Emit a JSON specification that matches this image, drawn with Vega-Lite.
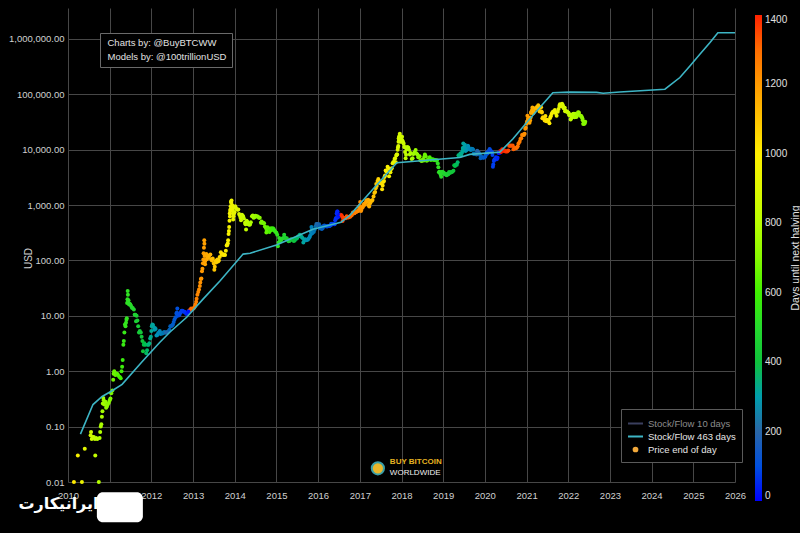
{
  "$schema": "https://vega.github.io/schema/vega-lite/v6.json",
  "autosize": {"type": "none"},
  "padding": {"left": 68, "top": 8, "right": 65, "bottom": 51},
  "width": 667,
  "height": 474,
  "background": "#000000",
  "datasets": {
    "price": [
      {"t":"2010-02-22","p":0.01,"h":1010},{"t":"2010-03-28","p":0.03,"h":976},{"t":"2010-05-03","p":0.01,"h":940},{"t":"2010-05-28","p":0.04,"h":915},
      {"t":"2010-07-18","p":0.07,"h":864},{"t":"2010-07-22","p":0.08,"h":860},{"t":"2010-07-28","p":0.06,"h":854},{"t":"2010-08-05","p":0.065,"h":846},
      {"t":"2010-08-15","p":0.065,"h":836},{"t":"2010-08-25","p":0.06,"h":826},{"t":"2010-08-28","p":0.03,"h":823},{"t":"2010-09-05","p":0.062,"h":815},
      {"t":"2010-09-15","p":0.06,"h":805},{"t":"2010-09-28","p":0.01,"h":792},{"t":"2010-10-05","p":0.062,"h":785},{"t":"2010-10-15","p":0.1,"h":775},
      {"t":"2010-10-25","p":0.15,"h":765},{"t":"2010-11-06","p":0.33,"h":753},{"t":"2010-11-15","p":0.25,"h":744},{"t":"2010-12-01","p":0.22,"h":728},
      {"t":"2010-12-15","p":0.25,"h":714},{"t":"2011-01-01","p":0.3,"h":697},{"t":"2011-01-15","p":0.4,"h":683},{"t":"2011-02-01","p":0.7,"h":666},
      {"t":"2011-02-10","p":1.0,"h":657},{"t":"2011-02-20","p":0.85,"h":647},{"t":"2011-03-01","p":0.88,"h":638},{"t":"2011-03-15","p":0.85,"h":624},
      {"t":"2011-04-01","p":0.78,"h":607},{"t":"2011-04-15","p":1.0,"h":593},{"t":"2011-04-25","p":1.6,"h":583},{"t":"2011-05-01","p":3.0,"h":577},
      {"t":"2011-05-10","p":5.0,"h":568},{"t":"2011-05-20","p":6.5,"h":558},{"t":"2011-05-28","p":8.5,"h":550},{"t":"2011-06-03","p":17,"h":544},
      {"t":"2011-06-08","p":28,"h":539},{"t":"2011-06-12","p":18,"h":535},{"t":"2011-06-20","p":16,"h":527},{"t":"2011-07-01","p":16,"h":516},
      {"t":"2011-07-15","p":14,"h":502},{"t":"2011-08-01","p":13,"h":485},{"t":"2011-08-15","p":10.5,"h":471},{"t":"2011-08-20","p":8,"h":466},
      {"t":"2011-09-01","p":8.2,"h":454},{"t":"2011-09-15","p":5,"h":440},{"t":"2011-10-01","p":5,"h":424},{"t":"2011-10-15","p":3.5,"h":410},
      {"t":"2011-10-20","p":2.3,"h":405},{"t":"2011-11-01","p":3.2,"h":393},{"t":"2011-11-18","p":2.1,"h":376},{"t":"2011-12-01","p":3,"h":363},
      {"t":"2011-12-15","p":3.2,"h":349},{"t":"2012-01-01","p":5.3,"h":332},{"t":"2012-01-10","p":7,"h":323},{"t":"2012-01-20","p":6.3,"h":313},
      {"t":"2012-02-01","p":6,"h":301},{"t":"2012-02-15","p":4.4,"h":287},{"t":"2012-03-01","p":4.9,"h":272},{"t":"2012-03-15","p":5.3,"h":258},
      {"t":"2012-04-01","p":4.9,"h":241},{"t":"2012-04-15","p":4.9,"h":227},{"t":"2012-05-01","p":5,"h":211},{"t":"2012-05-15","p":5,"h":197},
      {"t":"2012-06-01","p":5.3,"h":180},{"t":"2012-06-15","p":6.5,"h":166},{"t":"2012-07-01","p":6.7,"h":150},{"t":"2012-07-15","p":7.7,"h":136},
      {"t":"2012-08-01","p":9.4,"h":119},{"t":"2012-08-16","p":13.5,"h":104},{"t":"2012-08-19","p":10,"h":101},{"t":"2012-09-01","p":10.2,"h":88},
      {"t":"2012-09-15","p":11.6,"h":74},{"t":"2012-10-01","p":12.4,"h":58},{"t":"2012-10-15","p":11.8,"h":44},{"t":"2012-11-01","p":10.9,"h":27},
      {"t":"2012-11-15","p":11.2,"h":13},{"t":"2012-11-27","p":12.3,"h":1},
      {"t":"2012-12-01","p":12.6,"h":1316},{"t":"2012-12-15","p":13.5,"h":1302},{"t":"2013-01-01","p":13.4,"h":1285},{"t":"2013-01-15","p":14.5,"h":1271},
      {"t":"2013-02-01","p":20.4,"h":1254},{"t":"2013-02-15","p":27,"h":1240},{"t":"2013-03-01","p":34.5,"h":1226},{"t":"2013-03-10","p":46,"h":1217},
      {"t":"2013-03-20","p":64,"h":1207},{"t":"2013-03-28","p":89,"h":1199},{"t":"2013-04-03","p":135,"h":1193},{"t":"2013-04-06","p":170,"h":1190},
      {"t":"2013-04-09","p":230,"h":1187},{"t":"2013-04-12","p":120,"h":1184},{"t":"2013-04-16","p":85,"h":1180},{"t":"2013-04-22","p":125,"h":1174},
      {"t":"2013-05-01","p":105,"h":1165},{"t":"2013-05-15","p":114,"h":1151},{"t":"2013-06-01","p":128,"h":1134},{"t":"2013-06-15","p":100,"h":1120},
      {"t":"2013-07-01","p":88,"h":1104},{"t":"2013-07-06","p":68,"h":1099},{"t":"2013-07-15","p":98,"h":1090},{"t":"2013-08-01","p":104,"h":1073},
      {"t":"2013-08-15","p":100,"h":1059},{"t":"2013-09-01","p":140,"h":1042},{"t":"2013-09-15","p":130,"h":1028},{"t":"2013-10-01","p":128,"h":1012},
      {"t":"2013-10-15","p":150,"h":998},{"t":"2013-11-01","p":205,"h":981},{"t":"2013-11-08","p":300,"h":974},{"t":"2013-11-13","p":400,"h":969},
      {"t":"2013-11-16","p":520,"h":966},{"t":"2013-11-18","p":700,"h":964},{"t":"2013-11-22","p":780,"h":960},{"t":"2013-11-26","p":950,"h":956},
      {"t":"2013-11-29","p":1150,"h":953},{"t":"2013-12-04","p":1200,"h":948},{"t":"2013-12-10","p":990,"h":942},{"t":"2013-12-14","p":800,"h":938},
      {"t":"2013-12-18","p":550,"h":934},{"t":"2013-12-25","p":700,"h":927},{"t":"2014-01-05","p":950,"h":916},{"t":"2014-01-15","p":850,"h":906},
      {"t":"2014-02-01","p":830,"h":889},{"t":"2014-02-15","p":650,"h":875},{"t":"2014-02-25","p":530,"h":865},{"t":"2014-03-05","p":665,"h":857},
      {"t":"2014-03-15","p":630,"h":847},{"t":"2014-04-01","p":480,"h":830},{"t":"2014-04-10","p":360,"h":821},{"t":"2014-04-20","p":500,"h":811},
      {"t":"2014-05-01","p":450,"h":800},{"t":"2014-05-15","p":445,"h":786},{"t":"2014-06-01","p":630,"h":769},{"t":"2014-06-15","p":590,"h":755},
      {"t":"2014-07-01","p":640,"h":739},{"t":"2014-07-15","p":620,"h":725},{"t":"2014-08-01","p":590,"h":708},{"t":"2014-08-18","p":480,"h":691},
      {"t":"2014-09-01","p":480,"h":677},{"t":"2014-09-15","p":470,"h":663},{"t":"2014-10-01","p":385,"h":647},{"t":"2014-10-05","p":320,"h":643},
      {"t":"2014-10-15","p":395,"h":633},{"t":"2014-11-01","p":325,"h":616},{"t":"2014-11-15","p":380,"h":602},{"t":"2014-12-01","p":380,"h":586},
      {"t":"2014-12-15","p":345,"h":572},{"t":"2015-01-01","p":315,"h":555},{"t":"2015-01-14","p":180,"h":542},{"t":"2015-01-25","p":255,"h":531},
      {"t":"2015-02-08","p":225,"h":517},{"t":"2015-02-20","p":245,"h":505},{"t":"2015-03-10","p":290,"h":487},{"t":"2015-03-25","p":245,"h":472},
      {"t":"2015-04-10","p":235,"h":456},{"t":"2015-04-25","p":225,"h":441},{"t":"2015-05-10","p":240,"h":426},{"t":"2015-05-25","p":237,"h":411},
      {"t":"2015-06-10","p":228,"h":395},{"t":"2015-06-25","p":245,"h":380},{"t":"2015-07-10","p":270,"h":365},{"t":"2015-07-25","p":290,"h":350},
      {"t":"2015-08-10","p":265,"h":334},{"t":"2015-08-25","p":210,"h":319},{"t":"2015-09-10","p":240,"h":303},{"t":"2015-09-25","p":235,"h":288},
      {"t":"2015-10-10","p":245,"h":273},{"t":"2015-10-25","p":285,"h":258},{"t":"2015-11-04","p":400,"h":248},{"t":"2015-11-11","p":310,"h":241},
      {"t":"2015-11-25","p":330,"h":227},{"t":"2015-12-10","p":415,"h":212},{"t":"2015-12-25","p":455,"h":197},{"t":"2016-01-10","p":450,"h":181},
      {"t":"2016-01-15","p":380,"h":176},{"t":"2016-01-25","p":395,"h":166},{"t":"2016-02-10","p":380,"h":150},{"t":"2016-02-25","p":425,"h":135},
      {"t":"2016-03-10","p":415,"h":121},{"t":"2016-03-25","p":415,"h":106},{"t":"2016-04-10","p":420,"h":90},{"t":"2016-04-25","p":460,"h":75},
      {"t":"2016-05-10","p":460,"h":60},{"t":"2016-05-25","p":450,"h":45},{"t":"2016-06-05","p":575,"h":34},{"t":"2016-06-12","p":700,"h":27},
      {"t":"2016-06-17","p":760,"h":22},{"t":"2016-06-22","p":595,"h":17},{"t":"2016-07-01","p":675,"h":8},{"t":"2016-07-08","p":640,"h":1},
      {"t":"2016-07-15","p":665,"h":1396},{"t":"2016-08-01","p":605,"h":1379},{"t":"2016-08-03","p":515,"h":1377},{"t":"2016-08-15","p":570,"h":1365},
      {"t":"2016-09-01","p":575,"h":1348},{"t":"2016-09-15","p":608,"h":1334},{"t":"2016-10-01","p":615,"h":1318},{"t":"2016-10-15","p":640,"h":1304},
      {"t":"2016-11-01","p":730,"h":1287},{"t":"2016-11-15","p":710,"h":1273},{"t":"2016-12-01","p":750,"h":1257},{"t":"2016-12-15","p":780,"h":1243},
      {"t":"2016-12-25","p":890,"h":1233},{"t":"2017-01-04","p":1130,"h":1223},{"t":"2017-01-11","p":780,"h":1216},{"t":"2017-01-20","p":900,"h":1207},
      {"t":"2017-02-01","p":985,"h":1195},{"t":"2017-02-15","p":1010,"h":1181},{"t":"2017-03-01","p":1220,"h":1167},{"t":"2017-03-15","p":1250,"h":1153},
      {"t":"2017-03-24","p":940,"h":1144},{"t":"2017-04-01","p":1080,"h":1136},{"t":"2017-04-15","p":1180,"h":1122},{"t":"2017-05-01","p":1420,"h":1106},
      {"t":"2017-05-15","p":1720,"h":1092},{"t":"2017-05-25","p":2400,"h":1082},{"t":"2017-06-05","p":2700,"h":1071},{"t":"2017-06-12","p":2950,"h":1064},
      {"t":"2017-06-20","p":2700,"h":1056},{"t":"2017-07-01","p":2500,"h":1045},{"t":"2017-07-15","p":1930,"h":1031},{"t":"2017-07-25","p":2600,"h":1021},
      {"t":"2017-08-05","p":3200,"h":1010},{"t":"2017-08-15","p":4200,"h":1000},{"t":"2017-09-01","p":4900,"h":983},{"t":"2017-09-14","p":3300,"h":970},
      {"t":"2017-09-20","p":4000,"h":964},{"t":"2017-10-01","p":4400,"h":953},{"t":"2017-10-15","p":5700,"h":939},{"t":"2017-11-01","p":6750,"h":922},
      {"t":"2017-11-12","p":5900,"h":911},{"t":"2017-11-20","p":8200,"h":903},{"t":"2017-11-28","p":9900,"h":895},{"t":"2017-12-04","p":11600,"h":889},
      {"t":"2017-12-08","p":16000,"h":885},{"t":"2017-12-12","p":17400,"h":881},{"t":"2017-12-17","p":19300,"h":876},{"t":"2017-12-22","p":13800,"h":871},
      {"t":"2017-12-31","p":14000,"h":862},{"t":"2018-01-06","p":17100,"h":856},{"t":"2018-01-15","p":13600,"h":847},{"t":"2018-01-25","p":11200,"h":837},
      {"t":"2018-02-01","p":9100,"h":830},{"t":"2018-02-06","p":7000,"h":825},{"t":"2018-02-15","p":10200,"h":816},{"t":"2018-03-01","p":10900,"h":802},
      {"t":"2018-03-15","p":8200,"h":788},{"t":"2018-04-01","p":6800,"h":771},{"t":"2018-04-15","p":8300,"h":757},{"t":"2018-05-05","p":9800,"h":737},
      {"t":"2018-05-20","p":8200,"h":722},{"t":"2018-06-01","p":7500,"h":710},{"t":"2018-06-15","p":6400,"h":696},{"t":"2018-07-01","p":6350,"h":680},
      {"t":"2018-07-15","p":6350,"h":666},{"t":"2018-07-25","p":8200,"h":656},{"t":"2018-08-10","p":6300,"h":640},{"t":"2018-08-25","p":6700,"h":625},
      {"t":"2018-09-05","p":7300,"h":614},{"t":"2018-09-15","p":6500,"h":604},{"t":"2018-10-01","p":6600,"h":588},{"t":"2018-10-15","p":6500,"h":574},
      {"t":"2018-11-01","p":6350,"h":557},{"t":"2018-11-15","p":5600,"h":543},{"t":"2018-11-25","p":3900,"h":533},{"t":"2018-12-05","p":3800,"h":523},
      {"t":"2018-12-15","p":3250,"h":513},{"t":"2018-12-24","p":4000,"h":504},{"t":"2019-01-05","p":3850,"h":492},{"t":"2019-01-15","p":3600,"h":482},
      {"t":"2019-02-01","p":3450,"h":465},{"t":"2019-02-15","p":3600,"h":451},{"t":"2019-03-01","p":3820,"h":437},{"t":"2019-03-15","p":3930,"h":423},
      {"t":"2019-04-01","p":4150,"h":406},{"t":"2019-04-15","p":5050,"h":392},{"t":"2019-05-01","p":5350,"h":376},{"t":"2019-05-15","p":7900,"h":362},
      {"t":"2019-06-01","p":8550,"h":345},{"t":"2019-06-15","p":8800,"h":331},{"t":"2019-06-26","p":12900,"h":320},{"t":"2019-07-01","p":10600,"h":315},
      {"t":"2019-07-10","p":12300,"h":306},{"t":"2019-07-16","p":9400,"h":300},{"t":"2019-08-01","p":10400,"h":284},{"t":"2019-08-06","p":11800,"h":279},
      {"t":"2019-08-15","p":10300,"h":270},{"t":"2019-09-01","p":9800,"h":253},{"t":"2019-09-15","p":10300,"h":239},{"t":"2019-09-25","p":8400,"h":229},
      {"t":"2019-10-10","p":8600,"h":214},{"t":"2019-10-26","p":9500,"h":198},{"t":"2019-11-10","p":8800,"h":183},{"t":"2019-11-25","p":7000,"h":168},
      {"t":"2019-12-10","p":7300,"h":153},{"t":"2019-12-25","p":7200,"h":138},{"t":"2020-01-10","p":8000,"h":122},{"t":"2020-01-25","p":8500,"h":107},
      {"t":"2020-02-12","p":10300,"h":89},{"t":"2020-02-25","p":9300,"h":76},{"t":"2020-03-05","p":9000,"h":67},{"t":"2020-03-12","p":4900,"h":60},
      {"t":"2020-03-20","p":6200,"h":52},{"t":"2020-04-01","p":6600,"h":40},{"t":"2020-04-15","p":6700,"h":26},{"t":"2020-04-30","p":8700,"h":11},
      {"t":"2020-05-10","p":8700,"h":1},
      {"t":"2020-05-15","p":9400,"h":1436},{"t":"2020-06-01","p":10200,"h":1419},{"t":"2020-06-15","p":9400,"h":1405},{"t":"2020-07-01","p":9230,"h":1389},
      {"t":"2020-07-15","p":9200,"h":1375},{"t":"2020-08-01","p":11800,"h":1358},{"t":"2020-08-15","p":11900,"h":1344},{"t":"2020-09-01","p":11900,"h":1327},
      {"t":"2020-09-15","p":10800,"h":1313},{"t":"2020-10-01","p":10600,"h":1297},{"t":"2020-10-15","p":11500,"h":1283},{"t":"2020-11-01","p":13800,"h":1266},
      {"t":"2020-11-15","p":16000,"h":1252},{"t":"2020-12-01","p":18800,"h":1236},{"t":"2020-12-15","p":19400,"h":1222},{"t":"2020-12-25","p":24700,"h":1212},
      {"t":"2021-01-01","p":29400,"h":1205},{"t":"2021-01-08","p":40800,"h":1198},{"t":"2021-01-15","p":36800,"h":1191},{"t":"2021-01-22","p":32000,"h":1184},
      {"t":"2021-02-01","p":33500,"h":1174},{"t":"2021-02-08","p":46000,"h":1167},{"t":"2021-02-15","p":48000,"h":1160},{"t":"2021-02-21","p":57500,"h":1154},
      {"t":"2021-02-28","p":45200,"h":1147},{"t":"2021-03-15","p":55800,"h":1132},{"t":"2021-04-01","p":59000,"h":1115},{"t":"2021-04-13","p":63500,"h":1103},
      {"t":"2021-04-25","p":49000,"h":1091},{"t":"2021-05-08","p":58000,"h":1078},{"t":"2021-05-15","p":46800,"h":1071},{"t":"2021-05-19","p":37000,"h":1067},
      {"t":"2021-06-01","p":36700,"h":1054},{"t":"2021-06-15","p":40500,"h":1040},{"t":"2021-06-22","p":32500,"h":1033},{"t":"2021-07-05","p":34000,"h":1020},
      {"t":"2021-07-20","p":29800,"h":1005},{"t":"2021-08-01","p":39900,"h":993},{"t":"2021-08-15","p":47000,"h":979},{"t":"2021-09-06","p":51700,"h":957},
      {"t":"2021-09-21","p":40700,"h":942},{"t":"2021-10-01","p":48200,"h":932},{"t":"2021-10-15","p":61500,"h":918},{"t":"2021-10-20","p":65900,"h":913},
      {"t":"2021-11-01","p":61000,"h":901},{"t":"2021-11-08","p":67500,"h":894},{"t":"2021-11-15","p":63500,"h":887},{"t":"2021-12-01","p":57000,"h":871},
      {"t":"2021-12-04","p":49300,"h":868},{"t":"2021-12-15","p":48900,"h":857},{"t":"2021-12-31","p":46300,"h":841},{"t":"2022-01-10","p":41800,"h":831},
      {"t":"2022-01-22","p":35100,"h":819},{"t":"2022-02-01","p":38700,"h":809},{"t":"2022-02-10","p":43600,"h":800},{"t":"2022-02-24","p":38300,"h":786},
      {"t":"2022-03-01","p":44400,"h":781},{"t":"2022-03-15","p":39300,"h":767},{"t":"2022-03-28","p":47100,"h":754},{"t":"2022-04-10","p":42200,"h":741},
      {"t":"2022-04-25","p":40400,"h":726},{"t":"2022-05-05","p":36500,"h":716},{"t":"2022-05-12","p":29000,"h":709},{"t":"2022-05-20","p":29200,"h":701},
      {"t":"2022-05-30","p":31700,"h":691},
      {"t":"2010-10-10","p":0.08,"h":780},{"t":"2010-10-20","p":0.11,"h":770},{"t":"2010-10-30","p":0.19,"h":760},{"t":"2010-11-02","p":0.26,"h":757},
      {"t":"2010-11-10","p":0.3,"h":749},{"t":"2010-11-25","p":0.28,"h":734},{"t":"2010-12-08","p":0.23,"h":721},{"t":"2010-12-25","p":0.27,"h":704},
      {"t":"2011-01-08","p":0.32,"h":690},{"t":"2011-01-25","p":0.45,"h":673},{"t":"2011-02-05","p":0.9,"h":662},{"t":"2011-02-15","p":0.95,"h":652},
      {"t":"2011-03-08","p":0.9,"h":631},{"t":"2011-03-25","p":0.8,"h":614},{"t":"2011-04-08","p":0.75,"h":600},{"t":"2011-04-20","p":1.2,"h":588},
      {"t":"2011-05-05","p":3.5,"h":573},{"t":"2011-05-15","p":7,"h":563},{"t":"2011-05-24","p":7.5,"h":554},{"t":"2011-05-31","p":9,"h":547},
      {"t":"2011-06-06","p":20,"h":541},{"t":"2011-06-10","p":24,"h":537},{"t":"2011-06-15","p":19,"h":532},{"t":"2011-06-25","p":16.5,"h":522},
      {"t":"2011-07-08","p":15,"h":509},{"t":"2011-07-22","p":13.8,"h":495},{"t":"2011-08-08","p":10.5,"h":478},{"t":"2011-08-25","p":10,"h":461},
      {"t":"2011-09-08","p":6.5,"h":447},{"t":"2011-09-22","p":5.3,"h":433},{"t":"2011-10-08","p":4.2,"h":417},{"t":"2011-10-27","p":3,"h":398},
      {"t":"2011-11-10","p":3,"h":384},{"t":"2011-11-25","p":2.4,"h":369},{"t":"2011-12-08","p":3,"h":356},{"t":"2011-12-22","p":3.9,"h":342},
      {"t":"2011-12-28","p":4.2,"h":336},
      {"t":"2012-01-05","p":6.5,"h":328},{"t":"2012-01-15","p":6.8,"h":318},{"t":"2012-01-27","p":5.6,"h":306},{"t":"2012-02-08","p":5.8,"h":294},
      {"t":"2012-02-22","p":4.5,"h":280},{"t":"2012-03-08","p":4.9,"h":265},{"t":"2012-03-22","p":4.7,"h":251},{"t":"2012-04-08","p":4.8,"h":234},
      {"t":"2012-04-22","p":5.1,"h":220},{"t":"2012-05-08","p":5.0,"h":204},{"t":"2012-05-22","p":5.1,"h":190},{"t":"2012-06-08","p":5.6,"h":173},
      {"t":"2012-06-22","p":6.5,"h":159},{"t":"2012-07-08","p":7.0,"h":143},{"t":"2012-07-22","p":8.6,"h":129},{"t":"2012-08-08","p":11,"h":112},
      {"t":"2012-08-12","p":11.5,"h":108},{"t":"2012-08-25","p":10.6,"h":95},{"t":"2012-09-08","p":11,"h":81},{"t":"2012-09-22","p":12.3,"h":67},
      {"t":"2012-10-08","p":11.9,"h":51},{"t":"2012-10-22","p":11.7,"h":37},{"t":"2012-11-08","p":10.9,"h":20},{"t":"2012-11-21","p":11.9,"h":7},
      {"t":"2013-01-08","p":13.8,"h":1278},{"t":"2013-01-22","p":16,"h":1264},{"t":"2013-01-28","p":18,"h":1258},{"t":"2013-02-08","p":24,"h":1247},
      {"t":"2013-02-22","p":30,"h":1233},{"t":"2013-03-05","p":40,"h":1222},{"t":"2013-03-15","p":47,"h":1212},{"t":"2013-03-24","p":71,"h":1203},
      {"t":"2013-04-01","p":104,"h":1195},{"t":"2013-04-10","p":200,"h":1186},{"t":"2013-04-14","p":95,"h":1182},{"t":"2013-04-18","p":100,"h":1178},
      {"t":"2013-04-27","p":130,"h":1169},{"t":"2013-05-08","p":112,"h":1158},{"t":"2013-05-22","p":122,"h":1144},{"t":"2013-06-08","p":105,"h":1127},
      {"t":"2013-06-22","p":108,"h":1113},{"t":"2013-07-10","p":77,"h":1095},{"t":"2013-07-22","p":92,"h":1083},{"t":"2013-08-08","p":96,"h":1066},
      {"t":"2013-08-22","p":115,"h":1052},{"t":"2013-09-08","p":126,"h":1035},{"t":"2013-09-22","p":125,"h":1021},{"t":"2013-10-08","p":125,"h":1005},
      {"t":"2013-10-22","p":185,"h":991},{"t":"2013-10-28","p":190,"h":985},{"t":"2013-11-04","p":230,"h":978},{"t":"2013-11-11","p":340,"h":971},
      {"t":"2013-11-20","p":620,"h":962},{"t":"2013-11-24","p":830,"h":958},{"t":"2013-12-01","p":1100,"h":951},{"t":"2013-12-07","p":880,"h":945},
      {"t":"2013-12-12","p":900,"h":940},{"t":"2013-12-16","p":700,"h":936},{"t":"2013-12-21","p":630,"h":931},{"t":"2013-12-30","p":740,"h":922},
      {"t":"2014-01-10","p":880,"h":911},{"t":"2014-01-25","p":820,"h":896},{"t":"2014-02-08","p":690,"h":882},{"t":"2014-02-20","p":590,"h":870},
      {"t":"2014-03-10","p":640,"h":852},{"t":"2014-03-22","p":570,"h":840},{"t":"2014-04-05","p":450,"h":826},{"t":"2014-04-15","p":520,"h":816},
      {"t":"2014-04-25","p":460,"h":806},{"t":"2014-05-08","p":440,"h":793},{"t":"2014-05-22","p":490,"h":779},{"t":"2014-06-08","p":650,"h":762},
      {"t":"2014-06-22","p":600,"h":748},{"t":"2014-07-08","p":625,"h":732},{"t":"2014-07-22","p":620,"h":718},{"t":"2014-08-08","p":590,"h":701},
      {"t":"2014-08-25","p":505,"h":684},{"t":"2014-09-08","p":475,"h":670},{"t":"2014-09-22","p":410,"h":656},{"t":"2014-10-08","p":355,"h":640},
      {"t":"2014-10-22","p":380,"h":626},{"t":"2014-11-08","p":345,"h":609},{"t":"2014-11-22","p":355,"h":595},{"t":"2014-12-08","p":370,"h":579},
      {"t":"2014-12-22","p":330,"h":565},
      {"t":"2015-01-08","p":290,"h":548},{"t":"2015-01-20","p":210,"h":536},{"t":"2015-02-01","p":225,"h":524},{"t":"2015-02-14","p":240,"h":511},
      {"t":"2015-03-01","p":255,"h":496},{"t":"2015-03-18","p":260,"h":479},{"t":"2015-04-02","p":250,"h":464},{"t":"2015-04-18","p":222,"h":448},
      {"t":"2015-05-02","p":236,"h":434},{"t":"2015-05-18","p":236,"h":418},{"t":"2015-06-02","p":225,"h":403},{"t":"2015-06-18","p":248,"h":387},
      {"t":"2015-07-02","p":255,"h":373},{"t":"2015-07-18","p":275,"h":357},{"t":"2015-08-02","p":280,"h":342},{"t":"2015-08-18","p":255,"h":326},
      {"t":"2015-09-02","p":228,"h":311},{"t":"2015-09-18","p":232,"h":295},{"t":"2015-10-02","p":237,"h":281},{"t":"2015-10-18","p":262,"h":265},
      {"t":"2015-10-30","p":325,"h":253},{"t":"2015-11-08","p":370,"h":244},{"t":"2015-11-18","p":330,"h":234},{"t":"2015-12-02","p":360,"h":220},
      {"t":"2015-12-17","p":455,"h":205},{"t":"2015-12-31","p":430,"h":191},
      {"t":"2016-01-03","p":430,"h":188},{"t":"2016-01-20","p":410,"h":171},{"t":"2016-02-02","p":370,"h":158},{"t":"2016-02-18","p":420,"h":142},
      {"t":"2016-03-02","p":420,"h":129},{"t":"2016-03-18","p":410,"h":113},{"t":"2016-04-02","p":418,"h":98},{"t":"2016-04-18","p":428,"h":82},
      {"t":"2016-05-02","p":445,"h":68},{"t":"2016-05-18","p":453,"h":52},{"t":"2016-05-30","p":530,"h":40},{"t":"2016-06-09","p":580,"h":30},
      {"t":"2016-06-14","p":690,"h":25},{"t":"2016-06-19","p":760,"h":20},{"t":"2016-06-26","p":630,"h":13},{"t":"2016-07-04","p":660,"h":5},
      {"t":"2016-07-25","p":655,"h":1386},{"t":"2016-08-08","p":590,"h":1372},{"t":"2016-08-22","p":585,"h":1358},{"t":"2016-09-08","p":625,"h":1341},
      {"t":"2016-09-22","p":597,"h":1327},{"t":"2016-10-08","p":617,"h":1311},{"t":"2016-10-22","p":655,"h":1297},{"t":"2016-11-08","p":710,"h":1280},
      {"t":"2016-11-22","p":740,"h":1266},{"t":"2016-12-08","p":770,"h":1250},{"t":"2016-12-20","p":790,"h":1238},{"t":"2016-12-30","p":960,"h":1228},
      {"t":"2017-01-07","p":900,"h":1220},{"t":"2017-01-15","p":820,"h":1212},{"t":"2017-01-26","p":915,"h":1201},{"t":"2017-02-08","p":1050,"h":1188},
      {"t":"2017-02-22","p":1120,"h":1174},{"t":"2017-03-08","p":1150,"h":1160},{"t":"2017-03-18","p":1000,"h":1150},{"t":"2017-04-08","p":1190,"h":1129},
      {"t":"2017-04-22","p":1230,"h":1115},{"t":"2017-05-08","p":1650,"h":1099},{"t":"2017-05-20","p":2000,"h":1087},{"t":"2017-05-29","p":2200,"h":1078},
      {"t":"2017-06-25","p":2500,"h":1051},{"t":"2017-07-08","p":2500,"h":1038},{"t":"2017-07-20","p":2250,"h":1026},{"t":"2017-08-01","p":2720,"h":1014},
      {"t":"2017-08-10","p":3400,"h":1005},{"t":"2017-08-22","p":4000,"h":993},{"t":"2017-09-08","p":4600,"h":976},{"t":"2017-09-26","p":3900,"h":958},
      {"t":"2017-10-08","p":4600,"h":946},{"t":"2017-10-22","p":6000,"h":932},{"t":"2017-11-06","p":7000,"h":917},{"t":"2017-11-16","p":7800,"h":907},
      {"t":"2017-11-24","p":8200,"h":899},{"t":"2017-12-01","p":10900,"h":892},{"t":"2017-12-06","p":13800,"h":887},{"t":"2017-12-10","p":15000,"h":883},
      {"t":"2017-12-14","p":16500,"h":879},{"t":"2017-12-19","p":17800,"h":874},{"t":"2017-12-26","p":15800,"h":867},
      {"t":"2018-01-03","p":15000,"h":859},{"t":"2018-01-10","p":14500,"h":852},{"t":"2018-01-20","p":12800,"h":842},{"t":"2018-01-29","p":11200,"h":833},
      {"t":"2018-02-10","p":8100,"h":821},{"t":"2018-02-20","p":11200,"h":811},{"t":"2018-03-08","p":9900,"h":795},{"t":"2018-03-22","p":8700,"h":781},
      {"t":"2018-04-08","p":7000,"h":764},{"t":"2018-04-25","p":9000,"h":747},{"t":"2018-05-12","p":8500,"h":730},{"t":"2018-05-28","p":7300,"h":714},
      {"t":"2018-06-08","p":7600,"h":703},{"t":"2018-06-25","p":6200,"h":686},{"t":"2018-07-08","p":6700,"h":673},{"t":"2018-07-20","p":7400,"h":661},
      {"t":"2018-08-01","p":7600,"h":649},{"t":"2018-08-18","p":6500,"h":632},{"t":"2018-09-22","p":6700,"h":597},{"t":"2018-10-08","p":6600,"h":581},
      {"t":"2018-10-22","p":6500,"h":567},{"t":"2018-11-08","p":6400,"h":550},{"t":"2018-11-20","p":4800,"h":538},{"t":"2018-11-30","p":4000,"h":528},
      {"t":"2018-12-10","p":3500,"h":518},{"t":"2018-12-20","p":3900,"h":508},{"t":"2018-12-30","p":3800,"h":498},
      {"t":"2019-01-10","p":3700,"h":487},{"t":"2019-01-25","p":3550,"h":472},{"t":"2019-02-08","p":3650,"h":458},{"t":"2019-02-22","p":3950,"h":444},
      {"t":"2019-03-08","p":3880,"h":430},{"t":"2019-03-22","p":4000,"h":416},{"t":"2019-04-08","p":5200,"h":399},{"t":"2019-04-22","p":5350,"h":385},
      {"t":"2019-05-08","p":5900,"h":369},{"t":"2019-05-22","p":7800,"h":355},{"t":"2019-06-08","p":7800,"h":338},{"t":"2019-06-20","p":9500,"h":326},
      {"t":"2019-06-22","p":10700,"h":324},{"t":"2019-07-05","p":11200,"h":311},{"t":"2019-07-20","p":10500,"h":296},{"t":"2019-07-26","p":9800,"h":290},
      {"t":"2019-08-10","p":11300,"h":275},{"t":"2019-08-22","p":10100,"h":263},{"t":"2019-09-08","p":10400,"h":246},{"t":"2019-09-20","p":10000,"h":234},
      {"t":"2019-10-01","p":8300,"h":223},{"t":"2019-10-20","p":8200,"h":204},{"t":"2019-10-30","p":9200,"h":194},{"t":"2019-11-18","p":8100,"h":175},
      {"t":"2019-12-01","p":7400,"h":162},{"t":"2019-12-18","p":7100,"h":145},
      {"t":"2020-01-05","p":7400,"h":127},{"t":"2020-01-18","p":8900,"h":114},{"t":"2020-02-01","p":9400,"h":100},{"t":"2020-02-18","p":9700,"h":83},
      {"t":"2020-03-08","p":8000,"h":64},{"t":"2020-03-15","p":5400,"h":57},{"t":"2020-03-26","p":6700,"h":46},{"t":"2020-04-08","p":7300,"h":33},
      {"t":"2020-04-22","p":7100,"h":19},{"t":"2020-05-05","p":8900,"h":6},
      {"t":"2020-05-22","p":9100,"h":1429},{"t":"2020-06-08","p":9700,"h":1412},{"t":"2020-06-22","p":9600,"h":1398},{"t":"2020-07-08","p":9300,"h":1382},
      {"t":"2020-07-25","p":9600,"h":1365},{"t":"2020-08-08","p":11700,"h":1351},{"t":"2020-08-22","p":11700,"h":1337},{"t":"2020-09-08","p":10100,"h":1320},
      {"t":"2020-09-22","p":10500,"h":1306},{"t":"2020-10-08","p":10900,"h":1290},{"t":"2020-10-22","p":12900,"h":1276},{"t":"2020-11-08","p":15500,"h":1259},
      {"t":"2020-11-22","p":18400,"h":1245},{"t":"2020-12-08","p":18300,"h":1229},{"t":"2020-12-20","p":23800,"h":1217},
      {"t":"2021-01-04","p":31900,"h":1202},{"t":"2021-01-12","p":34000,"h":1194},{"t":"2021-01-27","p":30400,"h":1179},{"t":"2021-02-05","p":38000,"h":1170},
      {"t":"2021-02-11","p":47900,"h":1164},{"t":"2021-02-18","p":52000,"h":1157},{"t":"2021-03-05","p":48500,"h":1142},{"t":"2021-03-22","p":54500,"h":1125},
      {"t":"2021-04-08","p":58000,"h":1108},{"t":"2021-04-20","p":56000,"h":1096},{"t":"2021-05-01","p":57800,"h":1085},{"t":"2021-05-12","p":49000,"h":1074},
      {"t":"2021-05-25","p":38500,"h":1061},{"t":"2021-06-08","p":33500,"h":1047},{"t":"2021-06-28","p":34500,"h":1027},{"t":"2021-07-12","p":33000,"h":1013},
      {"t":"2021-07-26","p":37200,"h":999},{"t":"2021-08-08","p":44000,"h":986},{"t":"2021-08-22","p":49000,"h":972},{"t":"2021-09-01","p":48800,"h":962},
      {"t":"2021-09-12","p":46000,"h":951},{"t":"2021-10-08","p":54000,"h":925},{"t":"2021-10-28","p":60600,"h":905},{"t":"2021-11-22","p":56000,"h":882},
      {"t":"2021-11-28","p":57200,"h":876},{"t":"2021-12-08","p":50500,"h":866},{"t":"2021-12-22","p":48600,"h":852},
      {"t":"2022-01-04","p":46000,"h":837},{"t":"2022-01-16","p":43000,"h":825},{"t":"2022-01-27","p":37000,"h":814},{"t":"2022-02-06","p":42400,"h":804},
      {"t":"2022-02-16","p":44500,"h":794},{"t":"2022-03-08","p":38700,"h":774},{"t":"2022-03-22","p":42400,"h":760},{"t":"2022-04-04","p":46600,"h":747},
      {"t":"2022-04-18","p":40800,"h":733},{"t":"2022-05-01","p":38500,"h":720},{"t":"2022-05-08","p":34000,"h":713},{"t":"2022-05-16","p":29800,"h":705},
      {"t":"2022-05-25","p":29600,"h":696}
    ],
    "sf": [
      {"t":"2010-04-20","p":0.073,"s":"Stock/Flow 463 days"},{"t":"2010-08-08","p":0.25,"s":"Stock/Flow 463 days"},
      {"t":"2010-10-27","p":0.35,"s":"Stock/Flow 463 days"},{"t":"2011-01-19","p":0.44,"s":"Stock/Flow 463 days"},
      {"t":"2011-04-20","p":0.58,"s":"Stock/Flow 463 days"},{"t":"2011-10-08","p":1.45,"s":"Stock/Flow 463 days"},
      {"t":"2012-03-14","p":3.3,"s":"Stock/Flow 463 days"},{"t":"2012-06-13","p":5.1,"s":"Stock/Flow 463 days"},
      {"t":"2012-11-06","p":9.4,"s":"Stock/Flow 463 days"},{"t":"2013-03-29","p":20,"s":"Stock/Flow 463 days"},
      {"t":"2013-08-26","p":43,"s":"Stock/Flow 463 days"},{"t":"2014-03-15","p":130,"s":"Stock/Flow 463 days"},
      {"t":"2014-05-16","p":135,"s":"Stock/Flow 463 days"},{"t":"2015-01-01","p":190,"s":"Stock/Flow 463 days"},
      {"t":"2015-11-17","p":365,"s":"Stock/Flow 463 days"},{"t":"2016-07-20","p":490,"s":"Stock/Flow 463 days"},
      {"t":"2016-10-05","p":650,"s":"Stock/Flow 463 days"},{"t":"2017-04-23","p":1900,"s":"Stock/Flow 463 days"},
      {"t":"2017-11-21","p":5800,"s":"Stock/Flow 463 days"},{"t":"2019-05-27","p":7200,"s":"Stock/Flow 463 days"},
      {"t":"2019-08-22","p":8200,"s":"Stock/Flow 463 days"},{"t":"2020-05-11","p":9000,"s":"Stock/Flow 463 days"},
      {"t":"2020-09-02","p":15500,"s":"Stock/Flow 463 days"},{"t":"2021-01-30","p":36000,"s":"Stock/Flow 463 days"},
      {"t":"2021-08-19","p":106000,"s":"Stock/Flow 463 days"},{"t":"2022-01-12","p":109000,"s":"Stock/Flow 463 days"},
      {"t":"2022-09-06","p":108000,"s":"Stock/Flow 463 days"},{"t":"2022-11-03","p":104000,"s":"Stock/Flow 463 days"},
      {"t":"2023-03-29","p":110000,"s":"Stock/Flow 463 days"},{"t":"2024-04-27","p":123000,"s":"Stock/Flow 463 days"},
      {"t":"2024-09-05","p":200000,"s":"Stock/Flow 463 days"},{"t":"2024-12-02","p":324000,"s":"Stock/Flow 463 days"},
      {"t":"2025-03-01","p":530000,"s":"Stock/Flow 463 days"},{"t":"2025-05-27","p":855000,"s":"Stock/Flow 463 days"},
      {"t":"2025-08-04","p":1290000,"s":"Stock/Flow 463 days"},{"t":"2026-01-01","p":1290000,"s":"Stock/Flow 463 days"}
    ]
  },
  "layer": [
    {
      "data": {"values": [{"credit": "Charts by: @BuyBTCWW"}, {"credit": "Models by: @100trillionUSD"}]},
      "mark": {"type": "point", "opacity": 0, "size": 0},
      "encoding": {
        "shape": {
          "field": "credit", "type": "nominal",
          "scale": {"range": ["circle", "circle"]},
          "legend": {
            "orient": "none", "legendX": 32, "legendY": 25, "title": null,
            "symbolSize": 0, "symbolOpacity": 0, "symbolStrokeWidth": 0, "labelOffset": -7,
            "labelFontSize": 9.5, "labelColor": "#e2e2e2", "padding": 5, "rowPadding": 3,
            "strokeColor": "#6a6a6a", "fillColor": "#000000"
          }
        }
      }
    },
    {
      "data": {"name": "price"},
      "mark": {"type": "point", "filled": true, "size": 16, "opacity": 1},
      "encoding": {
        "x": {
          "field": "t", "type": "temporal", "title": null,
          "scale": {"domain": [{"year": 2010, "month": 1, "date": 1}, {"year": 2026, "month": 1, "date": 1}], "nice": false},
          "axis": {"format": "%Y", "tickCount": {"interval": "year", "step": 1}, "labelFlush": false, "grid": true}
        },
        "y": {
          "field": "p", "type": "quantitative", "title": "USD",
          "scale": {"type": "log", "domain": [0.01, 3600000], "nice": false},
          "axis": {"values": [0.01, 0.1, 1, 10, 100, 1000, 10000, 100000, 1000000], "format": ",.2f", "grid": true, "titleX": -35, "titleY": 250}
        },
        "color": {
          "field": "h", "type": "quantitative",
          "scale": {"domain": [0, 200, 400, 600, 800, 1000, 1200, 1400], "range": ["#0000ff", "#2a66a6", "#0fc23c", "#3ff000", "#b8ff00", "#ffef00", "#ff9a00", "#ff2200"], "clamp": true},
          "legend": {
            "orient": "none", "legendX": 687, "legendY": 7, "direction": "vertical",
            "gradientLength": 486, "gradientThickness": 7, "gradientStrokeWidth": 0,
            "values": [0, 200, 400, 600, 800, 1000, 1200, 1400], "format": "d",
            "labelFontSize": 10, "labelColor": "#e0e0e0", "labelOffset": 3,
            "title": "Days until next halving", "titleOrient": "right", "titleAnchor": "middle",
            "titleFontSize": 10.5, "titleFontWeight": "normal", "titleColor": "#e0e0e0", "titlePadding": 4,
            "encoding": {"title": {"angle": {"value": -90}, "baseline": {"value": "top"}}}
          }
        }
      }
    },
    {
      "data": {"name": "sf"},
      "mark": {"type": "line", "strokeWidth": 1.6},
      "encoding": {
        "x": {"field": "t", "type": "temporal", "title": null},
        "y": {"field": "p", "type": "quantitative", "title": "USD"},
        "stroke": {
          "field": "s", "type": "nominal",
          "scale": {"domain": ["Stock/Flow 10 days", "Stock/Flow 463 days", "Price end of day"], "range": ["#3a3f5e", "#3db5c5", "#f2a93b"]},
          "legend": {
            "orient": "none", "legendX": 553, "legendY": 401, "title": null,
            "symbolType": "stroke", "symbolSize": 225, "symbolStrokeWidth": 2,
            "labelFontSize": 9.5, "labelColor": "#e6e6e6", "labelOffset": 4, "rowPadding": 0,
            "padding": 6, "strokeColor": "#5a5a5a", "fillColor": "#000000",
            "encoding": {
              "symbols": {
                "shape": {"value": {"signal": "datum.value === 'Price end of day' ? 'circle' : 'stroke'"}},
                "size": {"value": {"signal": "datum.value === 'Price end of day' ? 14 : 225"}},
                "fill": {"value": {"signal": "datum.value === 'Price end of day' ? '#f2a93b' : 'transparent'"}}
              },
              "labels": {
                "fill": {"value": {"signal": "datum.value === 'Stock/Flow 10 days' ? '#8c8c8c' : '#e6e6e6'"}}
              }
            }
          }
        }
      }
    },
    {
      "data": {"values": [{"t": "2017-06-08", "p": 0.0177}]},
      "mark": {"type": "point", "filled": true, "size": 150, "fill": "#e8b62a", "stroke": "#3a9fa8", "strokeWidth": 2, "opacity": 1},
      "encoding": {
        "x": {"field": "t", "type": "temporal", "title": null},
        "y": {"field": "p", "type": "quantitative", "title": "USD"}
      }
    },
    {
      "data": {"values": [{"t": "2017-09-21", "p": 0.0228, "label": "BUY BITCOIN"}]},
      "mark": {"type": "text", "align": "left", "baseline": "middle", "fontSize": 8, "fontWeight": "bold", "fill": "#e6b422"},
      "encoding": {
        "x": {"field": "t", "type": "temporal", "title": null},
        "y": {"field": "p", "type": "quantitative", "title": "USD"},
        "text": {"field": "label"}
      }
    },
    {
      "data": {"values": [{"t": "2017-09-21", "p": 0.0144, "label": "WORLDWIDE"}]},
      "mark": {"type": "text", "align": "left", "baseline": "middle", "fontSize": 8, "fill": "#f0f0f0"},
      "encoding": {
        "x": {"field": "t", "type": "temporal", "title": null},
        "y": {"field": "p", "type": "quantitative", "title": "USD"},
        "text": {"field": "label"}
      }
    },
    {
      "data": {"values": [{"t": "2010-09-11", "t2": "2011-10-19", "p": 0.00655, "p2": 0.00188}]},
      "mark": {"type": "rect", "fill": "#ffffff", "cornerRadius": 6},
      "encoding": {
        "x": {"field": "t", "type": "temporal", "title": null},
        "x2": {"field": "t2"},
        "y": {"field": "p", "type": "quantitative", "title": "USD"},
        "y2": {"field": "p2"}
      }
    },
    {
      "data": {"values": [{"t": "2009-10-10", "p": 0.004, "label": "ایرانیکارت"}]},
      "mark": {"type": "text", "align": "center", "baseline": "middle", "fontSize": 16, "fontWeight": "bold", "font": "DejaVu Sans", "fill": "#ffffff"},
      "encoding": {
        "x": {"field": "t", "type": "temporal", "title": null},
        "y": {"field": "p", "type": "quantitative", "title": "USD"},
        "text": {"field": "label"}
      }
    }
  ],
  "config": {
    "font": "Liberation Sans, Arial, sans-serif",
    "view": {"stroke": null},
    "axis": {
      "gridColor": "#474747", "gridWidth": 1, "domain": false, "ticks": false,
      "labelColor": "#d0d0d0", "labelFontSize": 9.5, "titleColor": "#d0d0d0", "titleFontSize": 10, "titleFontWeight": "normal"
    },
    "axisX": {"labelPadding": 8},
    "axisY": {"labelPadding": 4},
    "legend": {"labelColor": "#e0e0e0"}
  }
}
